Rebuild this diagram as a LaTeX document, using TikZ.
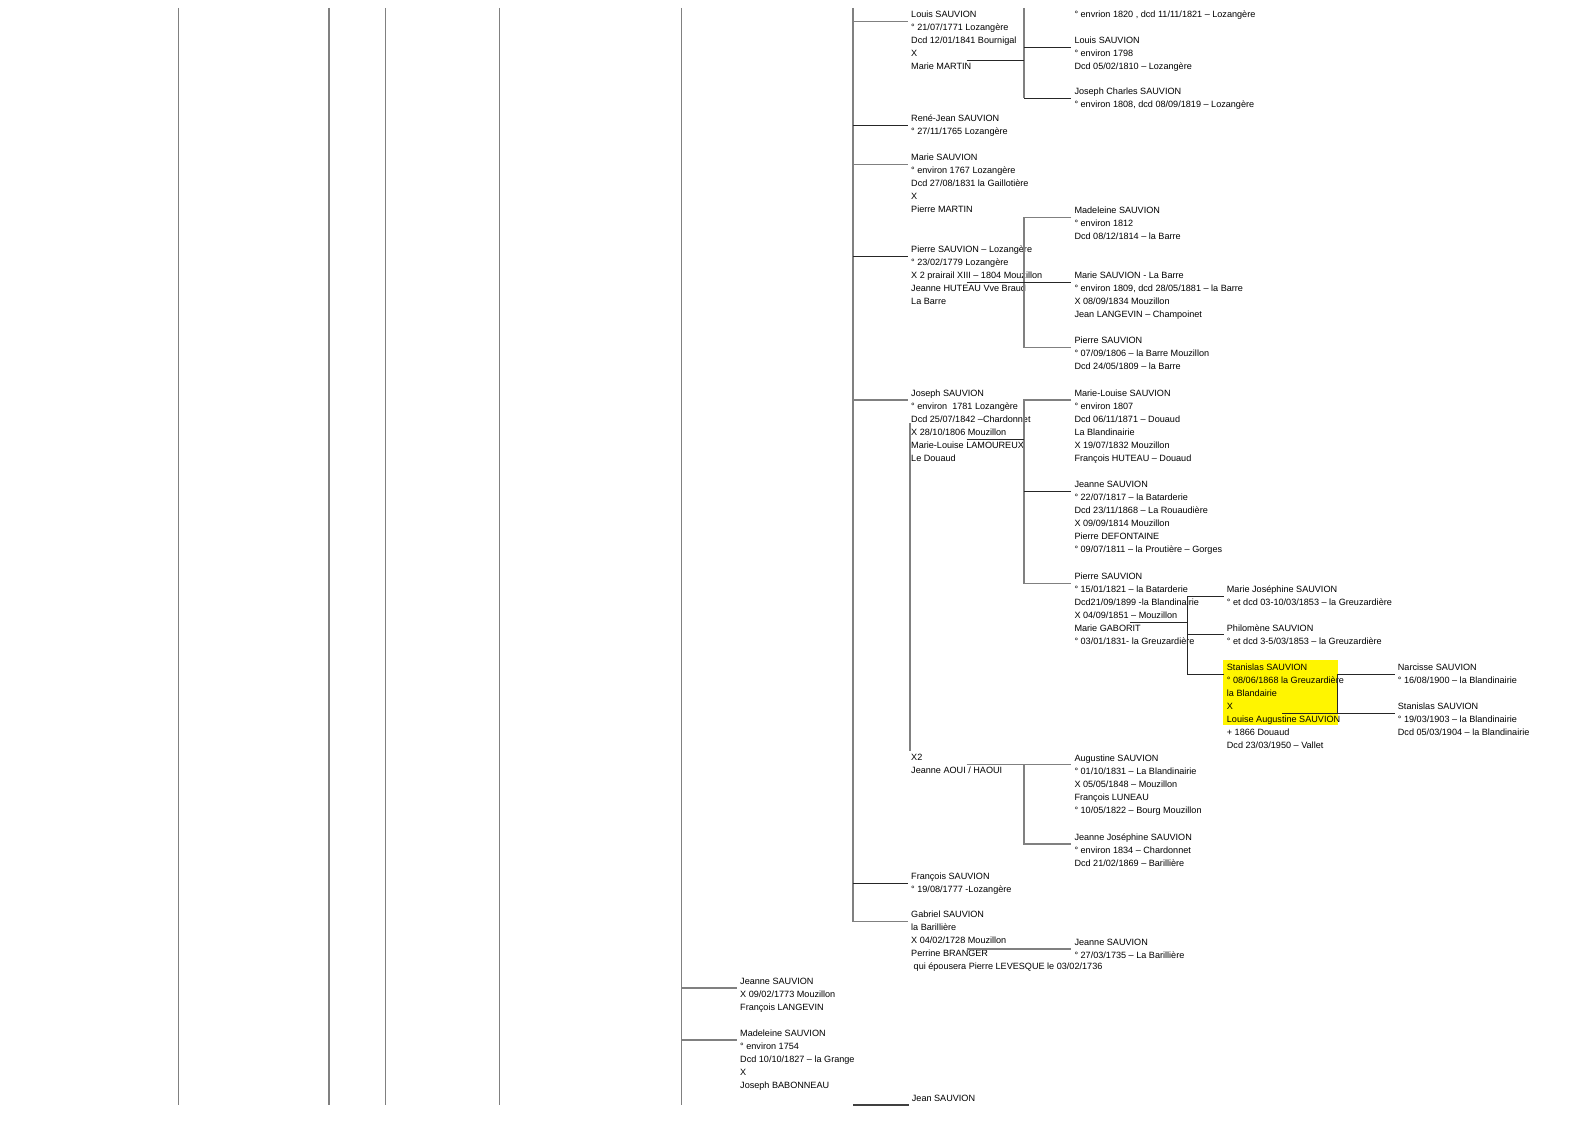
\documentclass[tikz,border=0pt]{standalone}
\usepackage{fontspec}
\setmainfont{Liberation Sans}
\usetikzlibrary{calc}

\definecolor{linegray}{RGB}{128,128,128}
\definecolor{hilite}{RGB}{255,245,0}

\begin{document}
\begin{tikzpicture}[x=1pt, y=-1pt,
    person/.style={anchor=north west, yshift=6.5pt, inner sep=0pt, align=left, font=\fontsize{9.1}{13}\selectfont},
    spine/.style={draw=linegray, line width=1.5pt},
    link/.style={draw=black!85, line width=0.8pt}]
\useasboundingbox (0,0) rectangle (1588,1123);

% lines carried over from the previous generations
\foreach \cx in {178.6,329,385.7,499.6}
  \draw[spine] (\cx,8) -- (\cx,1105);
\coordinate (trunkA) at (681.7,8);
\coordinate (trunkB) at (853,8);
\coordinate (colC) at (1024,8);
\coordinate (colD) at (1187.3,8);
\coordinate (colE) at (1337.7,8);

% highlighted entry
\fill[hilite] (1223.3,660) rectangle (1337.7,725);

% children of the trunk
\node[person] (louis) at (911,17.3) {Louis SAUVION\\° 21/07/1771 Lozangère\\Dcd 12/01/1841 Bournigal\\X\\Marie MARTIN};
\node[person] (rene) at (911,121) {René-Jean SAUVION\\° 27/11/1765 Lozangère};
\node[person] (marie) at (911,160.6) {Marie SAUVION\\° environ 1767 Lozangère\\Dcd 27/08/1831 la Gaillotière\\X\\Pierre MARTIN};
\node[person] (pierre) at (911,252) {Pierre SAUVION – Lozangère\\° 23/02/1779 Lozangère\\X 2 prairail XIII – 1804 Mouzillon\\Jeanne HUTEAU Vve Braud\\La Barre};
\node[person] (joseph) at (911,396) {Joseph SAUVION\\° environ\ \ 1781 Lozangère\\Dcd 25/07/1842 –Chardonnet\\X 28/10/1806 Mouzillon\\Marie-Louise LAMOUREUX\\Le Douaud};
\node[person] (remarriage) at (911,760.6) {X2\\Jeanne AOUI / HAOUI};
\node[person] (francois) at (911,879.3) {François SAUVION\\° 19/08/1777 -Lozangère};
\node[person] (gabriel) at (911,917.6) {Gabriel SAUVION\\la Barillière\\X 04/02/1728 Mouzillon\\Perrine BRANGER\\\hspace*{2.5pt}qui épousera Pierre LEVESQUE le 03/02/1736};
\node[person] (jean) at (911.7,1101) {Jean SAUVION};

% grandchildren
\node[person] (elder) at (1074.3,17.3) {° envrion 1820 , dcd 11/11/1821 – Lozangère};
\node[person] (louisjr) at (1074.3,43) {Louis SAUVION\\° environ 1798\\Dcd 05/02/1810 – Lozangère};
\node[person] (josephch) at (1074.3,94.3) {Joseph Charles SAUVION\\° environ 1808, dcd 08/09/1819 – Lozangère};
\node[person] (madeleine) at (1074.3,213.3) {Madeleine SAUVION\\° environ 1812\\Dcd 08/12/1814 – la Barre};
\node[person] (marieLB) at (1074.3,278.3) {Marie SAUVION - La Barre\\° environ 1809, dcd 28/05/1881 – la Barre\\X 08/09/1834 Mouzillon\\Jean LANGEVIN – Champoinet};
\node[person] (pierreLB) at (1074.3,343.3) {Pierre SAUVION\\° 07/09/1806 – la Barre Mouzillon\\Dcd 24/05/1809 – la Barre};
\node[person] (marielouise) at (1074.3,396) {Marie-Louise SAUVION\\° environ 1807\\Dcd 06/11/1871 – Douaud\\La Blandinairie\\X 19/07/1832 Mouzillon\\François HUTEAU – Douaud};
\node[person] (jeanne) at (1074.3,487) {Jeanne SAUVION\\° 22/07/1817 – la Batarderie\\Dcd 23/11/1868 – La Rouaudière\\X 09/09/1814 Mouzillon\\Pierre DEFONTAINE\\° 09/07/1811 – la Proutière – Gorges};
\node[person] (pierreB) at (1074.3,579.3) {Pierre SAUVION\\° 15/01/1821 – la Batarderie\\Dcd21/09/1899 -la Blandinairie\\X 04/09/1851 – Mouzillon\\Marie GABORIT\\° 03/01/1831- la Greuzardière};
\node[person] (augustine) at (1074.3,761.6) {Augustine SAUVION\\° 01/10/1831 – La Blandinairie\\X 05/05/1848 – Mouzillon\\François LUNEAU\\° 10/05/1822 – Bourg Mouzillon};
\node[person] (jeannejos) at (1074.3,840) {Jeanne Joséphine SAUVION\\° environ 1834 – Chardonnet\\Dcd 21/02/1869 – Barillière};
\node[person] (jeanneG) at (1074.3,945) {Jeanne SAUVION\\° 27/03/1735 – La Barillière};

% great-grandchildren
\node[person] (mariejos) at (1226.7,592) {Marie Joséphine SAUVION\\° et dcd 03-10/03/1853 – la Greuzardière};
\node[person] (philomene) at (1226.7,630.6) {Philomène SAUVION\\° et dcd 3-5/03/1853 – la Greuzardière};
\node[person] (stanislas) at (1226.7,670) {Stanislas SAUVION\\° 08/06/1868 la Greuzardière\\la Blandairie\\X\\Louise Augustine SAUVION\\+ 1866 Douaud\\Dcd 23/03/1950 – Vallet};
\node[person] (narcisse) at (1397.7,670) {Narcisse SAUVION\\° 16/08/1900 – la Blandinairie};
\node[person] (stanislasjr) at (1397.7,709) {Stanislas SAUVION\\° 19/03/1903 – la Blandinairie\\Dcd 05/03/1904 – la Blandinairie};

% older siblings
\node[person] (jeanneL) at (740,984) {Jeanne SAUVION\\X 09/02/1773 Mouzillon\\François LANGEVIN};
\node[person] (madeleineB) at (740,1036) {Madeleine SAUVION\\° environ 1754\\Dcd 10/10/1827 – la Grange\\X\\Joseph BABONNEAU};

% where the branches come in
\foreach \p in {louis,rene,marie,pierre,joseph,francois,gabriel,jean,
    louisjr,josephch,madeleine,marieLB,pierreLB,marielouise,jeanne,pierreB,
    augustine,jeannejos,jeanneG,mariejos,philomene,stanislas,narcisse,
    stanislasjr,jeanneL,madeleineB}
  \coordinate (\p-in) at ([shift={(-3pt,-10.5pt)}]\p.north west);
% marriage lines start under the spouse
\coordinate (louis-x) at ([shift={(55.5pt,-49.5pt)}]louis.north west);
\coordinate (pierre-x) at ([shift={(55.5pt,-36.5pt)}]pierre.north west);
\coordinate (joseph-x) at ([shift={(55.5pt,-49.5pt)}]joseph.north west);
\coordinate (remarriage-x) at ([shift={(55.5pt,-10.5pt)}]remarriage.north west);
\coordinate (gabriel-x) at ([shift={(55.5pt,-36.5pt)}]gabriel.north west);
\coordinate (pierreB-x) at ([shift={(55.5pt,-49.5pt)}]pierreB.north west);
\coordinate (stanislas-x) at ([shift={(55.5pt,-49.5pt)}]stanislas.north west);

% trunk A
\draw[spine] (trunkA) -- (trunkA |- jean-in);
\foreach \p in {jeanneL,madeleineB}
  \draw[spine] (trunkA |- \p-in) -- (\p-in);

% trunk B
\draw[spine] (trunkB) |- (gabriel-in);
\foreach \p in {louis,marie,joseph}
  \draw[spine] (trunkB |- \p-in) -- (\p-in);
\foreach \p in {rene,pierre,francois}
  \draw[link] (trunkB |- \p-in) -- (\p-in);
\draw[spine, draw=black!75] (trunkB |- jean-in) -- (jean-in);

% Louis x Marie MARTIN
\draw[spine] (colC) -- (colC |- josephch-in);
\foreach \p in {louisjr,josephch}
  \draw[link] (colC |- \p-in) -- (\p-in);
\draw[link] (louis-x) -- (louis-x -| colC);

% Pierre x Jeanne HUTEAU
\draw[spine] (madeleine-in) -| (colC |- pierreLB-in) -- (pierreLB-in);
\draw[link] (pierre-x) -- (pierre-x -| marieLB-in);

% Joseph x Marie-Louise LAMOUREUX
\draw[spine] (marielouise-in) -| (colC |- pierreB-in) -- (pierreB-in);
\draw[link] (colC |- jeanne-in) -- (jeanne-in);
\draw[link] (joseph-x) -- (joseph-x -| colC);

% Joseph x Jeanne AOUI
\draw[spine] ([shift={(-1pt,-33.5pt)}]joseph.north west) -- ([shift={(-1pt,3.5pt)}]remarriage.north west);
\draw[spine] (remarriage-x) -- (remarriage-x -| augustine-in);
\draw[spine] (colC |- remarriage-x) |- (jeannejos-in);

% Gabriel x Perrine BRANGER
\draw[spine] (gabriel-x |- jeanneG-in) -- (jeanneG-in);

% Pierre x Marie GABORIT
\draw[link] (colD |- mariejos-in) -- (colD |- stanislas-in);
\foreach \p in {mariejos,philomene,stanislas}
  \draw[link] (colD |- \p-in) -- (\p-in);
\draw[link] (pierreB-x) -- (pierreB-x -| colD);

% Stanislas x Louise Augustine
\draw[link] (narcisse-in) -| (colE |- stanislasjr-in);
\draw[link] (stanislas-x) -- (stanislas-x -| stanislasjr-in);
\end{tikzpicture}
\end{document}
